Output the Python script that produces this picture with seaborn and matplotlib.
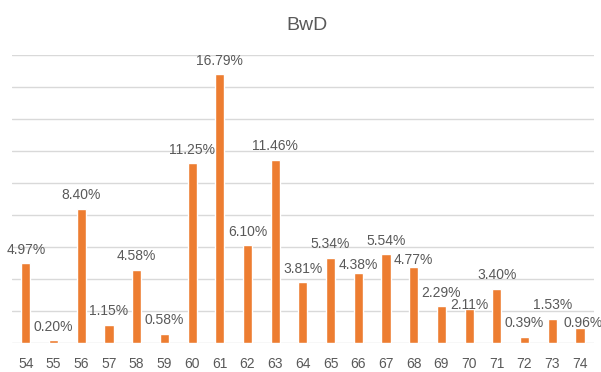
import matplotlib
matplotlib.use("Agg")
import matplotlib.pyplot as plt
import seaborn as sns
import pandas as pd

# Share of BwD by age
ages = [str(a) for a in range(54, 75)]
shares = [4.97, 0.20, 8.40, 1.15, 4.58, 0.58, 11.25, 16.79, 6.10, 11.46,
          3.81, 5.34, 4.38, 5.54, 4.77, 2.29, 2.11, 3.40, 0.39, 1.53, 0.96]
title = "BwD"

df = pd.DataFrame({"age": ages, "share": shares})

sns.set_theme(style="white")
plt.rcParams["font.family"] = ["Liberation Sans", "DejaVu Sans"]

text_color = "#595959"
bar_color = "#ED7D31"
grid_color = "#D9D9D9"

fig = plt.figure(figsize=(6.01, 3.72), dpi=100)
ax = fig.add_axes([0.02, 0.078, 0.968, 0.774])

sns.barplot(data=df, x="age", y="share", color=bar_color, width=0.33,
            saturation=1, ax=ax, zorder=3)

ax.set_xlim(-0.5, len(ages) - 0.5)
ax.set_ylim(0, 18)
ax.set_yticks(range(0, 19, 2))
ax.yaxis.grid(True, color=grid_color, linewidth=1.0, zorder=0)
ax.set_yticklabels([])
ax.tick_params(axis="both", length=0)
ax.tick_params(axis="x", labelsize=10, labelcolor=text_color, pad=10)
for s in ax.spines.values():
    s.set_visible(False)
ax.set_xlabel("")
ax.set_ylabel("")

# Value labels above the bars; a few sit lower so that neighbours don't collide
default_pad = 4.5
label_pad = {"66": 0.5, "68": 0.0, "70": -2.0, "74": -1.5}
label_dx = {"74": 2}
for age, val, patch in zip(ages, shares, ax.containers[0]):
    xc = patch.get_x() + patch.get_width() / 2
    ax.annotate(f"{val:.2f}%", (xc, patch.get_height()),
                xytext=(label_dx.get(age, 0), label_pad.get(age, default_pad)),
                textcoords="offset points", ha="center", va="bottom",
                fontsize=10, color=text_color, zorder=4)

fig.suptitle(title, x=0.51, y=0.955, fontsize=14, color=text_color)

fig.savefig("out.png", dpi=100)
